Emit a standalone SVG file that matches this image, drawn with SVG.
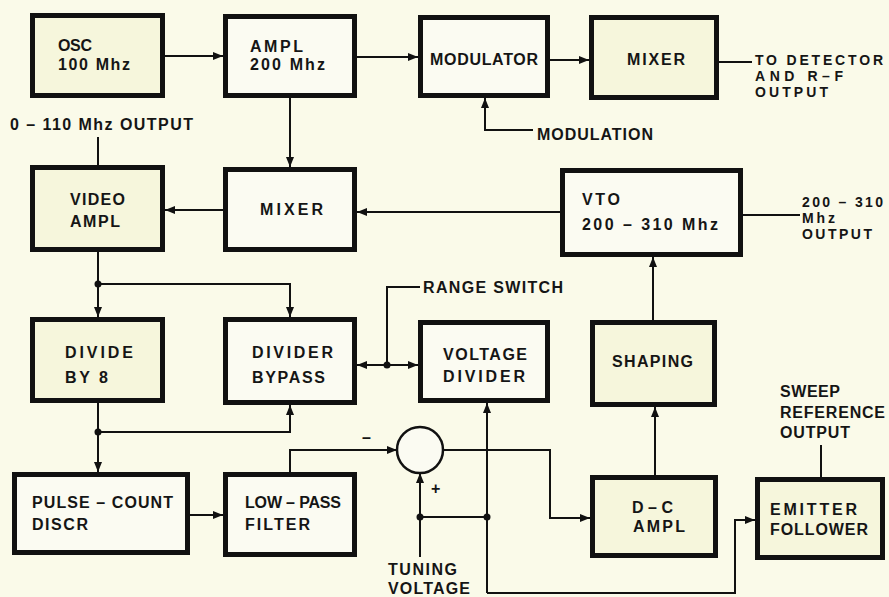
<svg xmlns="http://www.w3.org/2000/svg" width="889" height="597" viewBox="0 0 889 597">
<defs>
<marker id="arr" markerUnits="userSpaceOnUse" markerWidth="11" markerHeight="8" refX="10" refY="4" orient="auto">
<path d="M0,0 L10,4 L0,8 z" fill="#111"/>
</marker>
<style>
.bg{fill:#fafae9}
.box{stroke:#111;stroke-width:5}
.y{fill:#f6f6dc}
.w{fill:#fbfbf2}
.ln{fill:none;stroke:#111;stroke-width:2}
.dot{fill:#111}
text{font-family:"Liberation Sans",Arial,sans-serif;font-weight:bold;font-size:16px;fill:#151515}
.sm{font-size:14px}
</style>
</defs>
<rect class="bg" x="0" y="0" width="889" height="597"/>

<g id="connectors">
<path class="ln" d="M165,56 H223" marker-end="url(#arr)"/>
<path class="ln" d="M357,57 H418" marker-end="url(#arr)"/>
<path class="ln" d="M550,60 H589" marker-end="url(#arr)"/>
<path class="ln" d="M719,62 H752"/>
<path class="ln" d="M533,130 H485 V98" marker-end="url(#arr)"/>
<path class="ln" d="M290,98 V167" marker-end="url(#arr)"/>
<path class="ln" d="M223,210 H165" marker-end="url(#arr)"/>
<path class="ln" d="M560,212 H357" marker-end="url(#arr)"/>
<path class="ln" d="M98,137 V165"/>
<path class="ln" d="M743,215 H800"/>
<path class="ln" d="M653,320 V257" marker-end="url(#arr)"/>
<path class="ln" d="M98,252 V317" marker-end="url(#arr)"/>
<path class="ln" d="M98,284 H290 V317" marker-end="url(#arr)"/>
<circle class="dot" cx="98" cy="284" r="3.5"/>
<path class="ln" d="M98,403 V472" marker-end="url(#arr)"/>
<path class="ln" d="M98,432 H290 V405" marker-end="url(#arr)"/>
<circle class="dot" cx="98" cy="432" r="3.5"/>
<path class="ln" d="M387,365 H357" marker-end="url(#arr)"/>
<path class="ln" d="M387,365 H418" marker-end="url(#arr)"/>
<path class="ln" d="M387,365 V287 H420"/>
<circle class="dot" cx="387" cy="365" r="3.5"/>
<path class="ln" d="M190,515 H223" marker-end="url(#arr)"/>
<path class="ln" d="M290,472 V450 H397" marker-end="url(#arr)"/>
<path class="ln" d="M420,557 V473" marker-end="url(#arr)"/>
<path class="ln" d="M420,517 H487"/>
<circle class="dot" cx="420" cy="517" r="3.5"/>
<circle class="dot" cx="487" cy="517" r="3.5"/>
<path class="ln" d="M487,593 V403" marker-end="url(#arr)"/>
<path class="ln" d="M487,593 H735 V520 H755" marker-end="url(#arr)"/>
<path class="ln" d="M443,450 H550 V518 H590" marker-end="url(#arr)"/>
<path class="ln" d="M655,475 V407" marker-end="url(#arr)"/>
<path class="ln" d="M821,477 V445"/>
</g>

<g id="sum">
<circle cx="420" cy="450" r="23" fill="#fbfbf2" stroke="#111" stroke-width="2.5"/>
<text x="362" y="443">–</text>
<text x="431" y="494">+</text>
</g>

<g id="osc"><rect class="box y" x="32.5" y="15.5" width="130" height="80"/>
<text x="58" y="51" textLength="34" lengthAdjust="spacing">OSC</text>
<text x="58" y="70" textLength="72" lengthAdjust="spacing">100 Mhz</text></g>

<g id="ampl"><rect class="box w" x="225.5" y="16.5" width="129" height="79"/>
<text x="250" y="52" textLength="53" lengthAdjust="spacing">AMPL</text>
<text x="250" y="70" textLength="75" lengthAdjust="spacing">200 Mhz</text></g>

<g id="modulator"><rect class="box w" x="420.5" y="17.5" width="127" height="78"/>
<text x="430" y="65" textLength="108" lengthAdjust="spacing">MODULATOR</text></g>

<g id="mixer-top"><rect class="box y" x="591.5" y="17.5" width="125" height="80"/>
<text x="627" y="65" textLength="58" lengthAdjust="spacing">MIXER</text></g>

<g id="detector-label">
<text class="sm" x="755" y="65" textLength="128" lengthAdjust="spacing">TO DETECTOR</text>
<text class="sm" x="755" y="81" textLength="88" lengthAdjust="spacing">AND R–F</text>
<text class="sm" x="755" y="97" textLength="73" lengthAdjust="spacing">OUTPUT</text></g>

<g id="modulation-label"><text x="537" y="140" textLength="116" lengthAdjust="spacing">MODULATION</text></g>

<g id="video-output-label"><text x="10" y="130" textLength="183" lengthAdjust="spacing">0 – 110 Mhz  OUTPUT</text></g>

<g id="video-ampl"><rect class="box y" x="32.5" y="167.5" width="130" height="82"/>
<text x="70" y="205" textLength="55" lengthAdjust="spacing">VIDEO</text>
<text x="70" y="227" textLength="50" lengthAdjust="spacing">AMPL</text></g>

<g id="mixer-mid"><rect class="box w" x="225.5" y="169.5" width="129" height="80"/>
<text x="260" y="215" textLength="63" lengthAdjust="spacing">MIXER</text></g>

<g id="vto"><rect class="box w" x="562.5" y="170.5" width="178" height="84"/>
<text x="582" y="205" textLength="38" lengthAdjust="spacing">VTO</text>
<text x="582" y="230" textLength="136" lengthAdjust="spacing">200 – 310  Mhz</text></g>

<g id="vto-output-label">
<text class="sm" x="802" y="207" textLength="81" lengthAdjust="spacing">200 – 310</text>
<text class="sm" x="802" y="223" textLength="33" lengthAdjust="spacing">Mhz</text>
<text class="sm" x="802" y="239" textLength="70" lengthAdjust="spacing">OUTPUT</text></g>

<g id="range-switch-label"><text x="423" y="293" textLength="140" lengthAdjust="spacing">RANGE SWITCH</text></g>

<g id="divide-by-8"><rect class="box y" x="32.5" y="319.5" width="130" height="81"/>
<text x="65" y="358" textLength="68" lengthAdjust="spacing">DIVIDE</text>
<text x="65" y="383" textLength="43" lengthAdjust="spacing">BY 8</text></g>

<g id="divider-bypass"><rect class="box w" x="225.5" y="319.5" width="129" height="83"/>
<text x="252" y="358" textLength="81" lengthAdjust="spacing">DIVIDER</text>
<text x="252" y="383" textLength="73" lengthAdjust="spacing">BYPASS</text></g>

<g id="voltage-divider"><rect class="box w" x="420.5" y="322.5" width="127" height="78"/>
<text x="443" y="360" textLength="84" lengthAdjust="spacing">VOLTAGE</text>
<text x="443" y="382" textLength="82" lengthAdjust="spacing">DIVIDER</text></g>

<g id="shaping"><rect class="box y" x="592.5" y="322.5" width="122" height="82"/>
<text x="612" y="367" textLength="81" lengthAdjust="spacing">SHAPING</text></g>

<g id="sweep-label">
<text x="780" y="397" textLength="60" lengthAdjust="spacing">SWEEP</text>
<text x="780" y="418" textLength="105" lengthAdjust="spacing">REFERENCE</text>
<text x="780" y="438" textLength="70" lengthAdjust="spacing">OUTPUT</text></g>

<g id="pulse-count"><rect class="box w" x="14.5" y="474.5" width="173" height="78"/>
<text x="32" y="508" textLength="141" lengthAdjust="spacing">PULSE – COUNT</text>
<text x="32" y="530" textLength="56" lengthAdjust="spacing">DISCR</text></g>

<g id="low-pass"><rect class="box w" x="225.5" y="474.5" width="129" height="80"/>
<text x="245" y="508" textLength="96" lengthAdjust="spacing">LOW – PASS</text>
<text x="245" y="530" textLength="65" lengthAdjust="spacing">FILTER</text></g>

<g id="tuning-label">
<text x="388" y="575" textLength="69" lengthAdjust="spacing">TUNING</text>
<text x="388" y="594" textLength="82" lengthAdjust="spacing">VOLTAGE</text></g>

<g id="dc-ampl"><rect class="box y" x="592.5" y="477.5" width="123" height="78"/>
<text x="632" y="513" textLength="41" lengthAdjust="spacing">D – C</text>
<text x="633" y="532" textLength="52" lengthAdjust="spacing">AMPL</text></g>

<g id="emitter-follower"><rect class="box y" x="757.5" y="479.5" width="125" height="78"/>
<text x="770" y="515" textLength="87" lengthAdjust="spacing">EMITTER</text>
<text x="770" y="535" textLength="98" lengthAdjust="spacing">FOLLOWER</text></g>
</svg>
